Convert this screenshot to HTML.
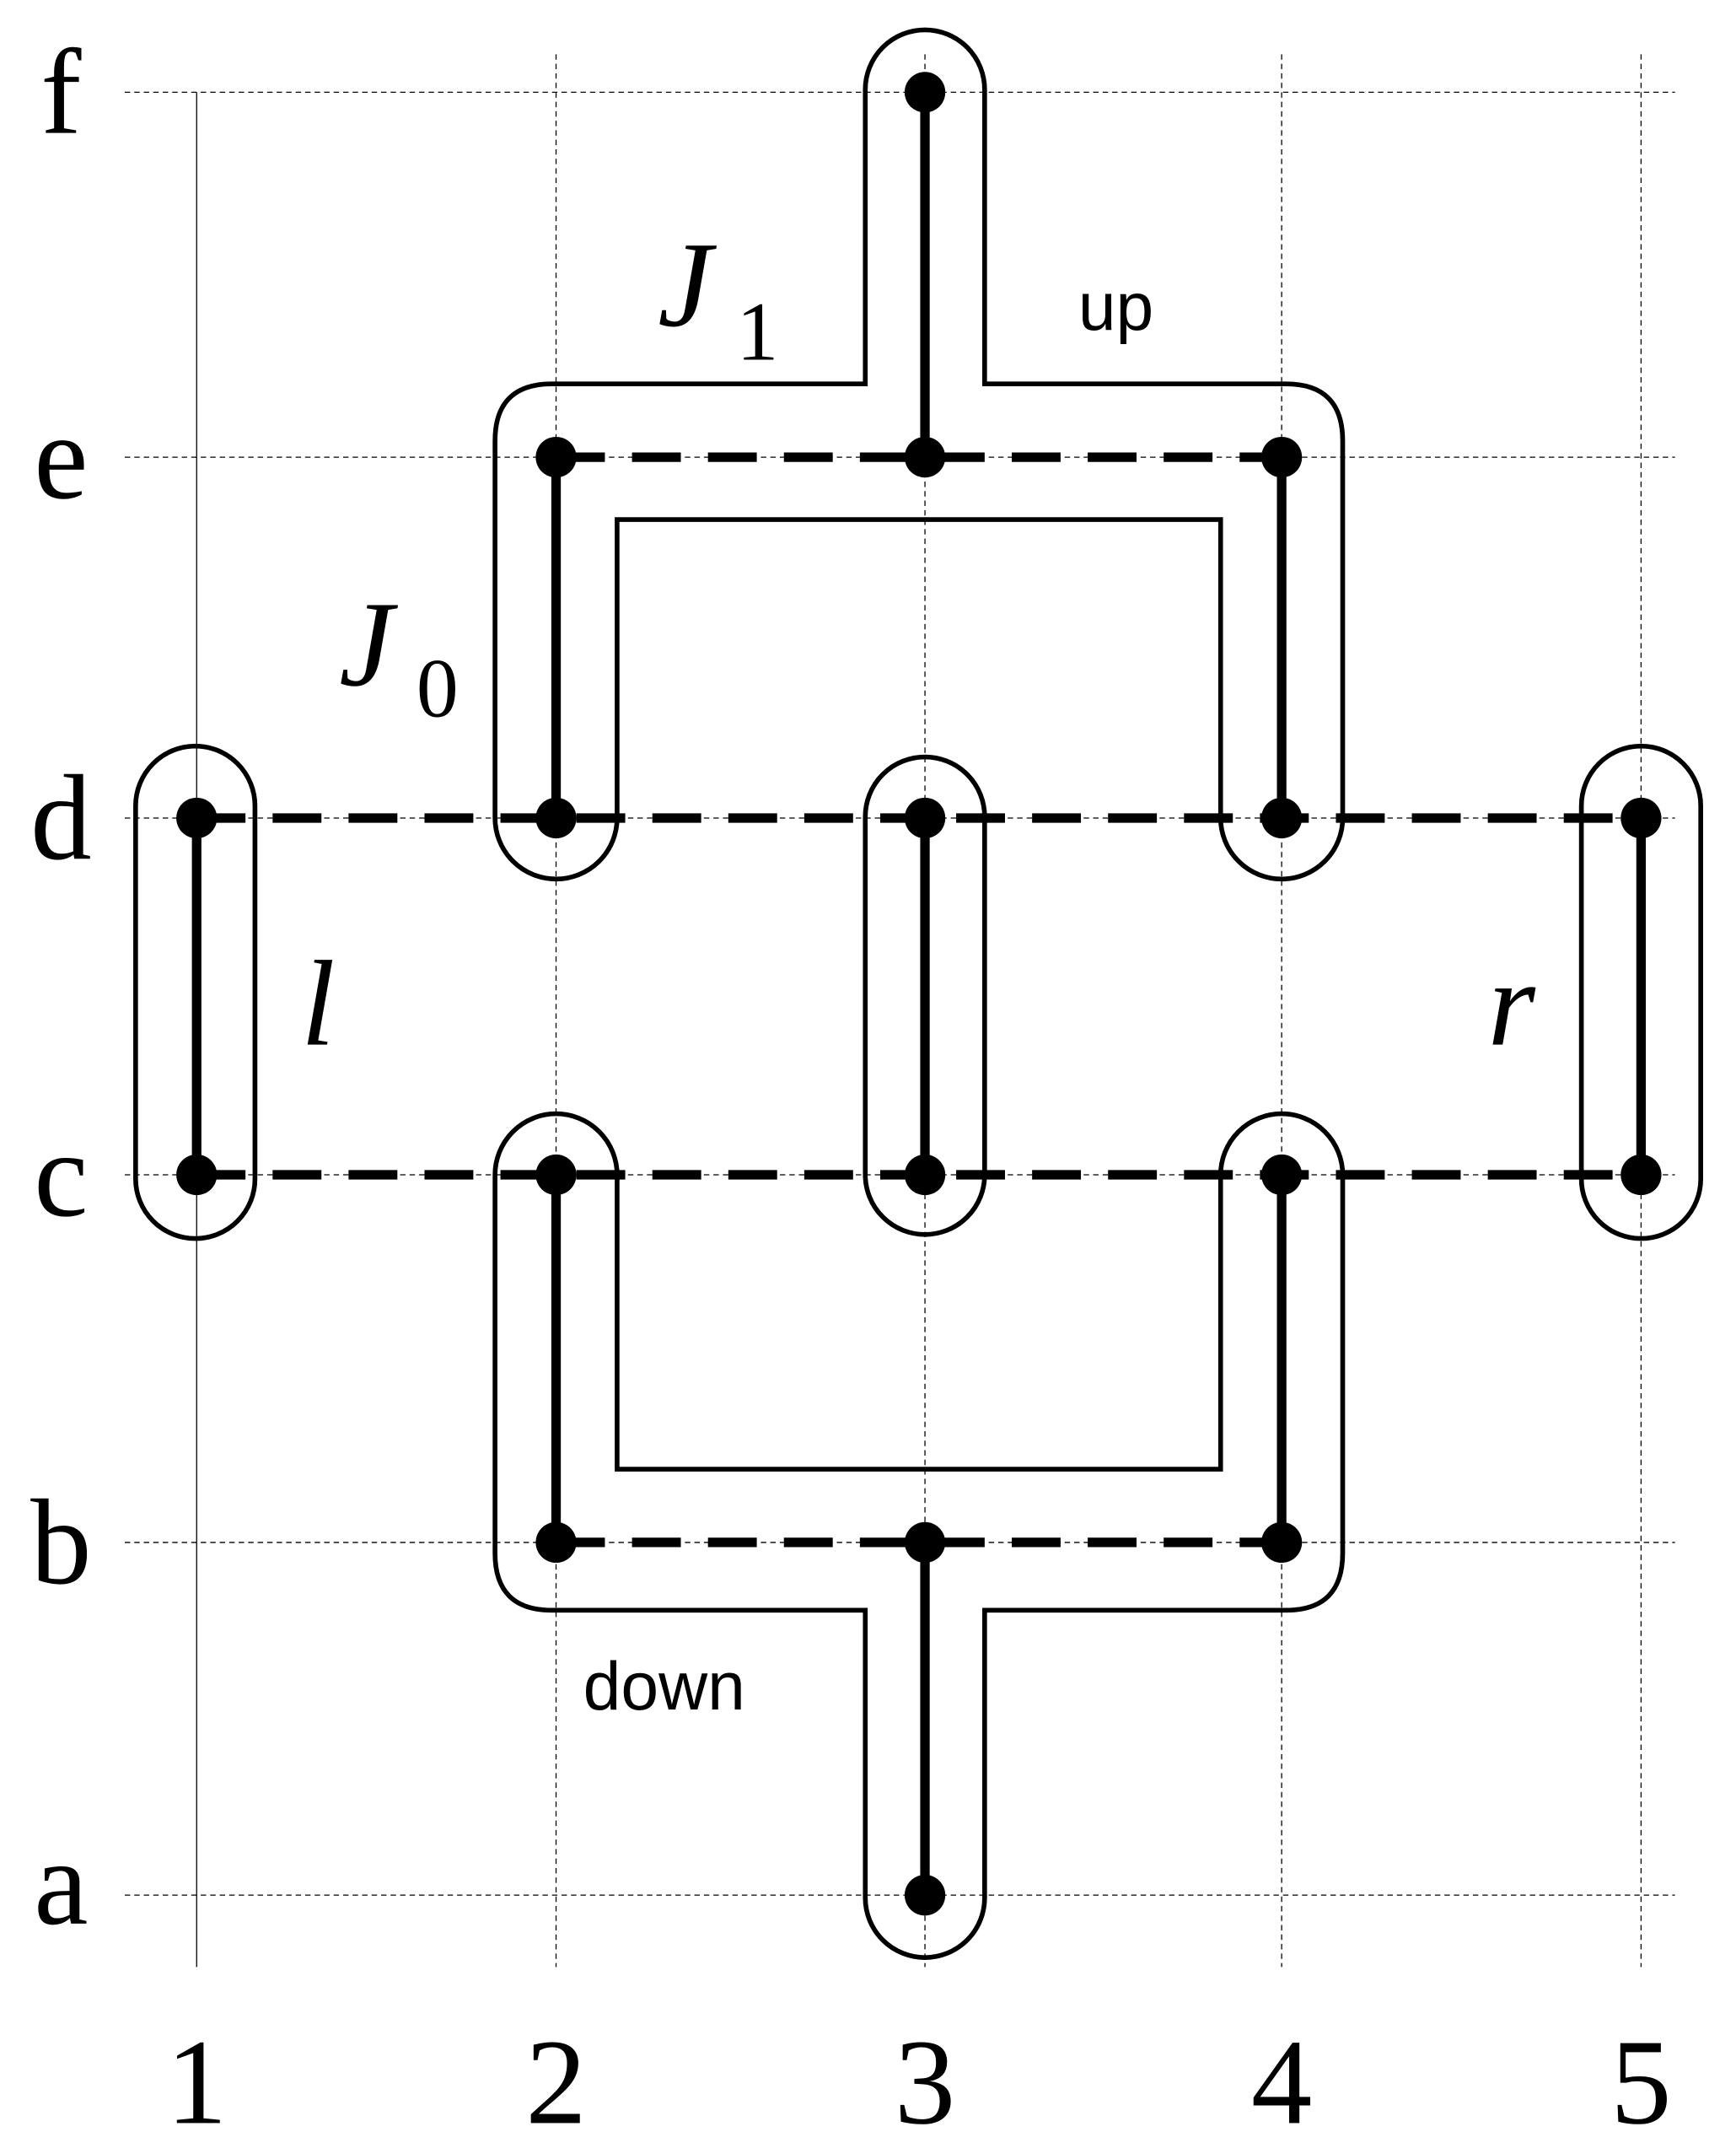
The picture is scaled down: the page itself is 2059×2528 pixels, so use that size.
<!DOCTYPE html>
<html><head><style>html,body{margin:0;padding:0;background:#fff}svg{display:block}</style></head>
<body>
<svg width="2059" height="2528" viewBox="0 0 1280 1571.6" preserveAspectRatio="none" xmlns="http://www.w3.org/2000/svg">
<g stroke="#000" stroke-width="0.8" stroke-dasharray="4,3" fill="none">
<line x1="92" y1="68" x2="1235" y2="68"/>
<line x1="92" y1="337" x2="1235" y2="337"/>
<line x1="92" y1="603" x2="1235" y2="603"/>
<line x1="92" y1="866" x2="1235" y2="866"/>
<line x1="92" y1="1137" x2="1235" y2="1137"/>
<line x1="92" y1="1397" x2="1235" y2="1397"/>
<line x1="410" y1="40" x2="410" y2="1450"/>
<line x1="682" y1="40" x2="682" y2="1450"/>
<line x1="945" y1="40" x2="945" y2="1450"/>
<line x1="1210" y1="40" x2="1210" y2="1450"/>
</g>
<line x1="145" y1="68" x2="145" y2="1450" stroke="#000" stroke-width="0.8"/>
<g stroke="#000" stroke-width="7" stroke-dasharray="36,20" fill="none">
<line x1="410" y1="337" x2="945" y2="337"/>
<line x1="145" y1="603" x2="1210" y2="603"/>
<line x1="145" y1="866" x2="1210" y2="866"/>
<line x1="410" y1="1137" x2="945" y2="1137"/>
</g>
<g stroke="#000" stroke-width="7">
<line x1="145" y1="603" x2="145" y2="866"/>
<line x1="1210" y1="603" x2="1210" y2="866"/>
<line x1="682" y1="603" x2="682" y2="866"/>
<line x1="410" y1="337" x2="410" y2="603"/>
<line x1="945" y1="337" x2="945" y2="603"/>
<line x1="682" y1="68" x2="682" y2="337"/>
<line x1="410" y1="866" x2="410" y2="1137"/>
<line x1="945" y1="866" x2="945" y2="1137"/>
<line x1="682" y1="1137" x2="682" y2="1397"/>
</g>
<g stroke="#000" stroke-width="3.5" fill="none">
<rect x="100" y="550" width="88" height="363" rx="44"/>
<rect x="1166" y="550" width="88" height="363" rx="44"/>
<rect x="638" y="558" width="88" height="352" rx="44"/>
<path d="M365,603 L365,325 Q365,283 407,283 L638,283 L638,66 A44,44 0 0 1 726,66 L726,283 L948,283 Q990,283 990,325 L990,603 A45,45 0 0 1 900,603 L900,383 L455,383 L455,603 A45,45 0 0 1 365,603 Z"/>
<path d="M365,866 L365,1145 Q365,1187 407,1187 L638,1187 L638,1399 A44,44 0 0 0 726,1399 L726,1187 L948,1187 Q990,1187 990,1145 L990,866 A45,45 0 0 0 900,866 L900,1083 L455,1083 L455,866 A45,45 0 0 0 365,866 Z"/>
</g>
<g fill="#000">
<circle cx="682" cy="68" r="15"/>
<circle cx="410" cy="337" r="15"/><circle cx="682" cy="337" r="15"/><circle cx="945" cy="337" r="15"/>
<circle cx="145" cy="603" r="15"/><circle cx="410" cy="603" r="15"/><circle cx="682" cy="603" r="15"/><circle cx="945" cy="603" r="15"/><circle cx="1210" cy="603" r="15"/>
<circle cx="145" cy="866" r="15"/><circle cx="410" cy="866" r="15"/><circle cx="682" cy="866" r="15"/><circle cx="945" cy="866" r="15"/><circle cx="1210" cy="866" r="15"/>
<circle cx="410" cy="1137" r="15"/><circle cx="682" cy="1137" r="15"/><circle cx="945" cy="1137" r="15"/>
<circle cx="682" cy="1397" r="15"/>
</g>
<g style="font-family:'Liberation Serif',serif" font-size="90" fill="#000" text-anchor="middle">
<text x="45" y="98">f</text><text x="45" y="367">e</text><text x="45" y="633">d</text>
<text x="45" y="896">c</text><text x="45" y="1167">b</text><text x="45" y="1418">a</text>
<text x="145" y="1565">1</text><text x="410" y="1565">2</text><text x="682" y="1565">3</text>
<text x="945" y="1565">4</text><text x="1210" y="1565">5</text>
</g>
<g style="font-family:'Liberation Serif',serif;font-style:italic" font-size="90" fill="#000">
<text x="485" y="240">J</text><text x="250" y="505">J</text>
<text x="222" y="770">l</text><text x="1097" y="770">r</text>
</g>
<g style="font-family:'Liberation Serif',serif" font-size="62" fill="#000">
<text x="543" y="265">1</text><text x="307" y="528">0</text>
</g>
<g style="font-family:'Liberation Sans',sans-serif" font-size="50" fill="#000">
<text x="795" y="243">up</text><text x="430" y="1260">down</text>
</g>
</svg>
</body></html>
